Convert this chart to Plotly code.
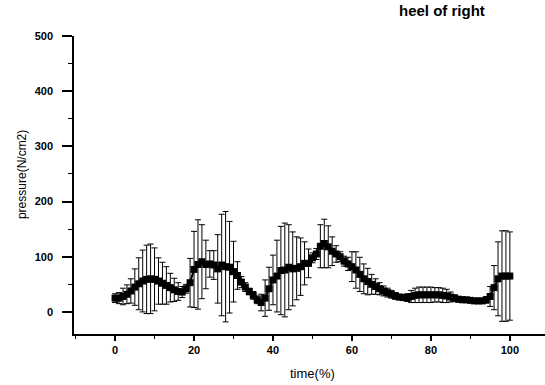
import plotly.graph_objects as go

# time (%) of the stance phase
time_pct = list(range(0, 101))

# mean pressure (N/cm2) at the heel of right foot
pressure_mean = [
    25, 25, 28, 32, 38, 45, 51, 56, 59, 60,
    59, 56, 52, 48, 44, 40, 37, 36, 42, 53,
    77, 86, 91, 86, 87, 85, 78, 85, 82, 81,
    73, 66, 54, 45, 37, 30, 22, 17, 25, 42,
    58, 65, 75, 76, 81, 78, 79, 82, 88, 88,
    98, 105, 119, 124, 118, 110, 105, 100, 92, 87,
    82, 76, 68, 60, 55, 50, 46, 42, 38, 35,
    32, 29, 27, 26, 26, 28, 30, 31, 31, 31,
    31, 31, 31, 30, 29, 27, 25, 23, 22, 22,
    21, 20, 20, 20, 22, 28, 44, 60, 65, 65,
    65,
]

# standard deviation (N/cm2)
pressure_sd = [
    8, 10, 15, 17, 22, 33, 47, 56, 62, 63,
    57, 42, 38, 34, 26, 21, 16, 10, 8, 44,
    69, 81, 67, 44, 24, 26, 62, 92, 100, 83,
    55, 25, 10, 8, 6, 7, 7, 15, 33, 39,
    45, 65, 80, 85, 77, 67, 57, 52, 39, 26,
    9, 10, 39, 44, 38, 26, 15, 9, 9, 12,
    27, 33, 31, 27, 24, 18, 14, 11, 9, 8,
    7, 6, 5, 5, 7, 11, 13, 14, 14, 14,
    14, 13, 13, 13, 12, 9, 6, 5, 5, 4,
    4, 4, 4, 4, 6, 18, 40, 67, 82, 82,
    80,
]

x_tickvals = [0, 20, 40, 60, 80, 100]
y_tickvals = [0, 100, 200, 300, 400, 500]

fig = go.Figure()
fig.add_trace(go.Scatter(
    x=time_pct,
    y=pressure_mean,
    mode="lines+markers",
    line=dict(color="black", width=2),
    marker=dict(symbol="square", size=7, color="black"),
    error_y=dict(type="data", array=pressure_sd, visible=True,
                 color="black", thickness=1, width=3),
    showlegend=False,
))

tick_font = dict(family="Liberation Sans, Arial, sans-serif", size=11,
                 color="black", weight="bold")

fig.update_layout(
    width=545, height=385,
    margin=dict(l=74, r=0, t=36, b=51),
    paper_bgcolor="white",
    plot_bgcolor="white",
    font=dict(family="Liberation Sans, Arial, sans-serif", color="black"),
    xaxis=dict(
        range=[-10.4, 108.9], tickvals=x_tickvals, showgrid=False, zeroline=False,
        showline=True, linecolor="black", linewidth=1.5,
        ticks="outside", ticklen=5, tickwidth=1.5, tickcolor="black",
        minor=dict(dtick=10, tick0=0, ticks="outside", ticklen=3,
                   tickwidth=1, tickcolor="black"),
        tickfont=tick_font,
    ),
    yaxis=dict(
        range=[-40, 500], tickvals=y_tickvals, showgrid=False, zeroline=False,
        showline=True, linecolor="black", linewidth=1.5,
        ticks="outside", ticklen=10, tickwidth=1.5, tickcolor="black",
        minor=dict(dtick=50, tick0=0, ticks="outside", ticklen=4,
                   tickwidth=1, tickcolor="black"),
        tickfont=tick_font, ticklabelstandoff=7,
    ),
    annotations=[
        dict(text="heel of right", xref="paper", yref="paper",
             x=0.782, y=1.084, xanchor="center", yanchor="middle",
             showarrow=False,
             font=dict(size=15, weight="bold", color="black")),
        dict(text="time(%)", xref="paper", yref="paper",
             x=0.506, y=-0.131, xanchor="center", yanchor="middle",
             showarrow=False, font=dict(size=13, color="black")),
        dict(text="pressure(N/cm2)", xref="paper", yref="paper",
             x=-0.110, y=0.534, xanchor="center", yanchor="middle",
             textangle=-90, showarrow=False,
             font=dict(size=12, color="black")),
    ],
)

fig.write_html("out.html", config={"displayModeBar": False},
               post_script="document.body.style.margin='0';")
